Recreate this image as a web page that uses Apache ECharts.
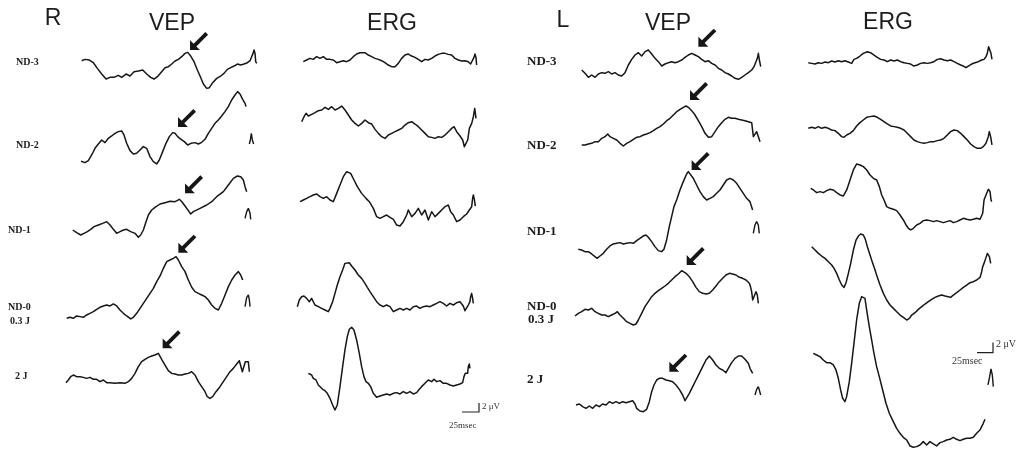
<!DOCTYPE html>
<html><head><meta charset="utf-8">
<script src="https://cdn.jsdelivr.net/npm/echarts@6/dist/echarts.min.js"></script>
<style>html,body{margin:0;padding:0;background:#fff}#c{width:1021px;height:450px}</style>
</head><body><div id="c"></div>
<script>
// ---- DATA: waveforms as [time, amplitude] samples (1 unit = 1/3 px of the figure) ----
const panels = ['R', 'L'];
const columns = ['VEP', 'ERG'];
const stimuli = [['ND-3'], ['ND-2'], ['ND-1'], ['ND-0', '0.3 J'], ['2 J']];
const scaleBarV = '2 μV';
const scaleBarT = '25msec';

const rVep1 = [[0,0],[10,4],[23,2],[35,-6],[47,-23],[60,-40],[73,-55],[85,-50],[97,-50],[110,-44],[120,-50],[133,-40],[145,-46],[157,-33],[170,-31],[183,-28],[195,-40],[207,-50],[217,-55],[227,-48],[240,-33],[250,-21],[260,-18],[270,-10],[280,-1],[290,4],[300,12],[310,22],[318,25],[327,14],[337,-3],[347,-28],[355,-46],[365,-70],[375,-83],[383,-81],[393,-66],[405,-53],[417,-46],[427,-38],[437,-26],[447,-21],[457,-16],[467,-10],[477,-13],[487,-10],[497,-6],[505,0],[511,2],[514,22],[517,32],[520,22],[522,-3],[525,-8]];
const rVep2 = [[0,0],[12,-4],[22,2],[32,19],[42,39],[52,52],[62,64],[72,56],[82,69],[92,76],[102,84],[112,89],[122,91],[129,79],[137,54],[147,32],[157,22],[167,24],[177,34],[187,44],[197,39],[207,14],[217,-1],[227,-8],[235,4],[245,29],[255,54],[265,74],[275,86],[282,84],[290,74],[300,66],[310,59],[320,49],[330,54],[342,56],[352,52],[362,57],[372,66],[382,84],[392,99],[402,114],[412,124],[422,136],[432,149],[442,164],[452,184],[462,199],[470,209],[477,202],[485,186],[492,174],[495,164]];
const rVep2Cal = [[505,52],[508,64],[511,84],[514,64],[518,52]];
const rVep3 = [[0,0],[12,-8],[24,-15],[34,-10],[44,-5],[54,2],[64,10],[77,15],[90,20],[102,25],[112,15],[122,2],[132,-10],[142,-5],[152,0],[162,2],[174,-5],[187,-10],[197,-22],[204,-15],[212,0],[220,25],[227,45],[237,60],[247,68],[262,78],[277,82],[292,86],[307,85],[320,92],[328,84],[337,72],[347,58],[354,48],[362,55],[382,65],[402,75],[417,85],[432,100],[452,115],[467,135],[482,155],[494,162],[504,160],[512,150],[517,130],[522,115]];
const rVep3Cal = [[517,35],[522,55],[527,65],[532,50],[534,32]];
const rVep4 = [[0,0],[10,3],[20,0],[30,7],[40,5],[50,3],[60,10],[70,15],[80,20],[90,27],[100,33],[110,37],[120,40],[130,37],[140,43],[150,37],[160,25],[170,15],[180,7],[192,-2],[200,3],[210,15],[220,30],[230,45],[240,60],[250,75],[260,90],[270,110],[280,127],[290,150],[300,170],[310,175],[320,180],[328,185],[335,175],[345,155],[355,140],[365,115],[375,93],[385,80],[395,75],[405,70],[415,65],[425,55],[435,40],[445,30],[455,25],[465,45],[475,70],[485,95],[495,115],[505,130],[515,140],[522,130],[528,115]];
const rVep4Cal = [[535,35],[540,63],[545,70],[548,55],[550,35]];
const rVep5 = [[0,0],[7,8],[14,18],[22,23],[32,18],[42,18],[52,16],[62,13],[72,16],[82,10],[92,10],[102,3],[112,8],[122,0],[132,0],[147,-2],[162,0],[177,-2],[187,3],[197,13],[207,28],[217,48],[227,63],[237,70],[247,76],[257,80],[267,83],[277,88],[287,70],[297,53],[307,36],[317,28],[327,26],[337,23],[347,23],[357,26],[367,28],[377,33],[387,23],[397,3],[407,-12],[417,-27],[424,-42],[432,-47],[440,-42],[450,-27],[462,-12],[472,3],[482,18],[492,33],[502,43],[512,56],[520,66],[524,66],[529,33],[534,33],[538,63],[542,68],[547,63],[550,33]];

const rErg1 = [[0,0],[10,5],[20,10],[30,7],[40,15],[50,10],[60,15],[70,7],[80,7],[90,5],[100,-3],[110,0],[120,3],[130,0],[140,5],[150,15],[160,23],[170,27],[185,27],[195,20],[205,15],[215,10],[225,7],[235,3],[245,-3],[255,-10],[265,-15],[275,-15],[285,-5],[295,10],[305,20],[315,23],[325,17],[335,13],[345,7],[355,0],[365,7],[375,5],[385,10],[395,17],[405,22],[415,25],[425,25],[435,22],[445,20],[455,10],[465,5],[475,2],[485,3],[495,0],[502,-7],[508,-5],[512,13],[515,23],[518,13],[520,-10]];
const rErg2 = [[0,0],[7,15],[13,25],[20,17],[30,22],[40,27],[50,33],[60,35],[70,43],[80,37],[90,45],[100,35],[110,40],[120,47],[130,35],[140,20],[150,5],[160,-5],[170,-13],[180,-5],[190,5],[200,-3],[210,-7],[220,-23],[230,-35],[240,-45],[250,-50],[260,-40],[270,-35],[280,-30],[290,-25],[300,-20],[310,-10],[320,-3],[330,0],[340,-7],[350,-15],[360,-25],[370,-35],[380,-45],[390,-47],[400,-50],[410,-45],[420,-47],[430,-40],[440,-30],[450,-20],[457,-15],[465,-30],[475,-43],[483,-55],[488,-75],[493,-80],[498,-55],[503,-20],[510,-5],[515,15],[519,40],[523,10]];
const rErg3 = [[0,0],[10,5],[20,10],[30,15],[40,20],[50,23],[60,15],[70,10],[80,15],[90,5],[100,0],[110,25],[120,50],[130,75],[140,90],[145,93],[152,85],[162,65],[172,45],[185,25],[198,10],[208,0],[210,-5],[220,-20],[230,-45],[240,-50],[250,-45],[260,-40],[270,-47],[280,-53],[290,-70],[300,-73],[310,-60],[320,-40],[325,-25],[335,-45],[345,-35],[355,-20],[365,-40],[375,-25],[385,-55],[395,-30],[405,-45],[415,-35],[425,-25],[435,-15],[445,-10],[452,-30],[460,-40],[470,-60],[480,-55],[490,-45],[500,-37],[508,-25],[515,-15],[518,11],[520,20],[523,7],[526,-13]];
const rErg4 = [[0,0],[6,20],[13,30],[20,32],[28,25],[36,15],[43,25],[48,20],[53,5],[63,0],[73,-5],[83,-10],[93,-15],[98,-5],[106,15],[113,40],[120,65],[128,90],[136,110],[143,130],[148,135],[156,132],[163,122],[173,110],[183,95],[193,85],[203,70],[210,58],[218,45],[228,30],[238,15],[248,5],[258,0],[268,5],[278,0],[288,-15],[293,-20],[298,-10],[308,-5],[318,-10],[328,-5],[338,-10],[348,0],[358,2],[368,-5],[378,0],[388,2],[398,0],[408,5],[418,10],[428,15],[438,10],[448,2],[458,10],[468,5],[478,12],[488,15],[498,2],[503,-12],[508,-10],[513,5],[518,15],[520,30],[523,40],[526,25],[528,10]];
const rErg5 = [[0,0],[10,-5],[15,-15],[23,-20],[30,-35],[35,-40],[43,-48],[50,-52],[57,-60],[65,-75],[73,-95],[80,-110],[87,-95],[95,-40],[103,20],[110,70],[117,110],[123,132],[130,138],[137,130],[145,100],[153,60],[160,20],[167,-10],[173,-25],[180,-30],[187,-40],[195,-60],[205,-72],[215,-68],[225,-65],[235,-62],[245,-65],[255,-60],[265,-58],[275,-62],[285,-55],[295,-60],[305,-55],[315,-62],[325,-58],[333,-48],[340,-40],[350,-30],[360,-20],[370,-25],[377,-18],[385,-25],[395,-22],[405,-30],[415,-30],[425,-35],[435,-38],[445,-35],[455,-32],[463,-28],[467,-10],[471,0],[475,-5],[478,0],[480,20],[483,28],[485,15]];

const lVep1 = [[0,0],[10,-10],[20,-22],[30,-15],[40,-22],[50,-12],[60,-8],[70,-10],[80,-5],[90,-12],[100,-8],[110,-15],[120,-18],[130,-8],[140,15],[150,32],[160,45],[170,52],[180,42],[190,55],[200,60],[210,48],[220,35],[230,25],[240,12],[250,18],[260,22],[270,25],[280,22],[290,25],[300,30],[310,38],[320,45],[330,50],[340,45],[350,40],[360,32],[370,25],[380,28],[390,20],[400,15],[410,5],[420,0],[430,-8],[440,-12],[450,-18],[460,-25],[470,-28],[480,-22],[490,-15],[500,-8],[510,0],[517,10],[523,15],[527,35],[530,50],[533,30],[537,10]];
const lVep2 = [[0,0],[10,0],[20,3],[30,5],[40,10],[50,10],[60,20],[70,25],[78,33],[85,25],[95,20],[105,15],[115,5],[125,-3],[135,5],[145,10],[155,17],[165,23],[175,25],[185,30],[195,33],[205,37],[215,43],[225,50],[235,55],[245,63],[255,73],[265,80],[275,90],[285,100],[295,107],[305,113],[313,117],[320,113],[330,103],[340,90],[350,73],[360,55],[370,35],[380,23],[390,25],[400,40],[410,55],[420,67],[430,77],[440,83],[450,80],[460,80],[470,77],[480,75],[490,73],[500,70],[510,67],[513,65],[515,25],[520,23],[525,40],[528,45],[531,35],[535,10]];
const lVep3 = [[0,0],[10,-2],[20,-7],[30,-7],[40,-14],[50,-22],[57,-27],[65,-20],[75,-12],[85,0],[95,10],[105,16],[115,18],[125,20],[135,16],[145,18],[155,20],[165,18],[175,26],[185,33],[195,40],[203,43],[210,36],[220,23],[230,8],[240,-4],[250,-7],[257,0],[265,28],[273,68],[280,98],[287,128],[295,148],[305,178],[315,203],[325,226],[330,233],[335,228],[345,213],[355,193],[365,173],[375,158],[385,148],[395,153],[405,158],[415,168],[425,178],[435,193],[445,208],[455,213],[465,208],[475,198],[485,183],[495,168],[505,153],[515,143],[523,118]];
const lVep3Cal = [[525,48],[530,73],[535,83],[540,73],[543,48]];
const lVep4 = [[0,0],[10,8],[20,13],[30,20],[40,18],[50,23],[60,13],[70,8],[80,3],[90,3],[100,-2],[110,3],[120,8],[127,13],[135,3],[145,-7],[155,-17],[165,-22],[175,-27],[183,-24],[190,-12],[200,8],[210,28],[220,43],[230,58],[240,68],[250,76],[260,83],[270,90],[280,98],[290,108],[300,118],[310,126],[320,136],[325,138],[333,128],[343,118],[353,103],[363,86],[373,73],[383,68],[393,66],[403,68],[413,78],[423,90],[433,103],[443,113],[453,123],[463,128],[473,126],[483,123],[493,116],[503,113],[513,108],[523,98],[527,86],[530,73],[533,48],[536,43],[539,63],[543,73],[547,63],[550,38]];
const lVep5 = [[0,0],[10,3],[20,-5],[30,-10],[40,-3],[50,-10],[60,0],[70,-5],[80,3],[90,0],[100,10],[110,5],[120,10],[130,5],[140,10],[150,7],[160,10],[170,13],[177,3],[182,-10],[192,-18],[202,-20],[212,-13],[220,10],[227,40],[234,60],[242,75],[250,80],[260,80],[270,75],[280,73],[290,70],[300,60],[310,47],[320,30],[327,13],[332,15],[340,35],[350,55],[360,75],[370,95],[380,115],[390,135],[400,147],[410,135],[420,120],[430,110],[440,105],[450,97],[457,110],[467,127],[477,140],[487,147],[497,147],[507,137],[517,125],[522,110],[527,105],[530,95]];
const lVep5Cal = [[537,30],[542,47],[547,55],[550,45],[554,30]];

const lErg1 = [[0,0],[10,-2],[20,-4],[30,0],[40,-2],[50,2],[60,0],[70,5],[80,2],[90,6],[100,3],[110,6],[120,2],[130,-2],[137,10],[145,13],[155,20],[165,28],[177,33],[187,30],[197,23],[207,16],[217,10],[227,8],[237,3],[247,8],[257,5],[267,8],[277,3],[287,0],[297,-2],[307,-4],[317,-10],[327,-7],[337,-2],[347,0],[357,-2],[367,0],[377,3],[387,10],[397,12],[407,8],[417,6],[427,8],[437,3],[447,-2],[457,-7],[465,-10],[473,-15],[480,-10],[490,-4],[500,0],[510,3],[520,8],[527,10],[533,18],[537,28],[541,48],[545,50],[548,28],[551,10]];
const lErg2 = [[0,0],[10,3],[20,0],[30,5],[40,0],[50,3],[60,0],[70,-5],[80,-7],[90,-15],[100,-25],[107,-27],[115,-20],[125,-15],[135,-7],[145,7],[155,17],[165,25],[175,33],[185,35],[197,37],[207,33],[217,27],[227,20],[237,13],[247,7],[257,5],[267,3],[277,0],[287,-5],[297,-15],[307,-25],[317,-35],[327,-40],[337,-43],[347,-45],[357,-43],[367,-40],[377,-40],[387,-37],[397,-35],[407,-30],[417,-20],[427,-10],[437,-5],[447,-7],[457,-15],[467,-25],[477,-35],[487,-47],[497,-55],[507,-60],[517,-60],[525,-55],[533,-45],[540,-25],[543,-10],[547,-25],[551,-50]];
const lErg3 = [[0,0],[8,-5],[18,-13],[28,-10],[38,-13],[48,-7],[58,-3],[68,-5],[78,-13],[88,-20],[98,-23],[108,-5],[118,25],[128,55],[138,73],[148,70],[158,65],[168,55],[178,40],[188,30],[198,25],[206,5],[213,-20],[220,-35],[228,-55],[238,-60],[248,-63],[258,-67],[268,-80],[278,-95],[286,-110],[293,-120],[300,-125],[308,-120],[318,-110],[328,-105],[338,-97],[348,-95],[358,-97],[368,-100],[378,-97],[388,-100],[398,-103],[408,-100],[418,-97],[428,-103],[438,-100],[448,-95],[458,-90],[468,-93],[478,-95],[488,-93],[498,-90],[508,-93],[513,-95],[516,-75],[518,-55],[520,-35],[523,-35],[528,-15],[533,-3],[538,-10],[541,-35],[543,-40]];
const lErg4 = [[0,0],[10,-10],[20,-20],[30,-28],[40,-35],[50,-45],[60,-55],[67,-65],[75,-80],[83,-100],[90,-115],[97,-122],[103,-108],[110,-80],[117,-50],[125,-10],[133,20],[140,32],[147,38],[155,35],[161,22],[167,0],[175,-25],[183,-50],[190,-70],[197,-92],[205,-115],[215,-140],[225,-160],[235,-175],[245,-185],[255,-195],[265,-205],[275,-212],[285,-220],[293,-215],[300,-205],[310,-198],[320,-188],[330,-180],[340,-172],[350,-165],[360,-158],[370,-152],[380,-148],[390,-145],[400,-148],[410,-150],[417,-152],[425,-145],[435,-138],[445,-130],[455,-122],[465,-115],[475,-108],[485,-105],[495,-100],[505,-92],[510,-75],[513,-60],[517,-50],[523,-48],[527,-20],[530,-15],[533,-30],[537,-50]];
const lErg5 = [[0,0],[10,-5],[20,-10],[30,-20],[40,-28],[50,-28],[60,-35],[68,-50],[75,-75],[82,-110],[88,-135],[95,-145],[100,-130],[108,-85],[115,-30],[122,30],[130,100],[138,150],[145,170],[150,175],[155,165],[160,130],[168,80],[175,40],[182,0],[190,-40],[198,-70],[208,-110],[218,-150],[228,-180],[240,-205],[250,-225],[260,-240],[270,-252],[280,-260],[290,-278],[300,-282],[310,-280],[320,-275],[330,-265],[340,-275],[350,-265],[360,-272],[370,-278],[380,-268],[390,-265],[400,-260],[410,-258],[420,-252],[430,-258],[440,-262],[450,-258],[460,-255],[470,-255],[480,-252],[490,-240],[500,-230],[505,-220],[510,-210],[515,-198]];
const lErg5Cal = [[524,-95],[529,-70],[533,-47],[537,-65],[540,-100]];

// arrowed VEP peaks (tip of the arrow, in the same units)
const arrowTips = {
  rVep1: [325, 32], rVep2: [291, 103], rVep3: [337, 110], rVep4: [335, 197], rVep5: [290, 103],
  lVep1: [350, 70], lVep2: [325, 135], lVep3: [340, 238], lVep4: [335, 153], lVep5: [280, 100]
};

// ---- LAYOUT (pixels) ----
const UNITS_PER_PX = 3;
const traces = [
  { d: rVep1, cal: null, at: [81.7, 60.7], arrow: 'rVep1' },
  { d: rVep2, cal: rVep2Cal, at: [81, 161.3], arrow: 'rVep2' },
  { d: rVep3, cal: rVep3Cal, at: [72.7, 230], arrow: 'rVep3' },
  { d: rVep4, cal: rVep4Cal, at: [66.7, 318.3], arrow: 'rVep4' },
  { d: rVep5, cal: null, at: [66, 382.7], arrow: 'rVep5' },
  { d: rErg1, cal: null, at: [303.3, 61.7] },
  { d: rErg2, cal: null, at: [301.7, 121.7] },
  { d: rErg3, cal: null, at: [300, 201.7] },
  { d: rErg4, cal: null, at: [297.3, 306.7] },
  { d: rErg5, cal: null, at: [308.3, 373.3] },
  { d: lVep1, cal: null, at: [581.7, 70], arrow: 'lVep1' },
  { d: lVep2, cal: null, at: [581.7, 145], arrow: 'lVep2' },
  { d: lVep3, cal: lVep3Cal, at: [578.3, 249.3], arrow: 'lVep3' },
  { d: lVep4, cal: null, at: [575, 316], arrow: 'lVep4' },
  { d: lVep5, cal: lVep5Cal, at: [576, 405], arrow: 'lVep5' },
  { d: lErg1, cal: null, at: [808.3, 62.7] },
  { d: lErg2, cal: null, at: [808.3, 128.3] },
  { d: lErg3, cal: null, at: [810.7, 188.3] },
  { d: lErg4, cal: null, at: [811.7, 246.7] },
  { d: lErg5, cal: lErg5Cal, at: [813.3, 353.3] }
];
const ARROW = 'path://M0 21 L0 10 L4 14 L17 1 L20 4 L7 17 L11 21 Z';
const INK = '#161616';

const grid = [], xAxis = [], yAxis = [], series = [];
traces.forEach((tr, i) => {
  const all = tr.d.concat(tr.cal || []).concat(tr.arrow ? [arrowTips[tr.arrow]] : []);
  const tMax = Math.max(...all.map(p => p[0]));
  const aMin = Math.min(...all.map(p => p[1]));
  const aMax = Math.max(...all.map(p => p[1]));
  grid.push({ left: tr.at[0], top: tr.at[1] - aMax / UNITS_PER_PX,
    width: tMax / UNITS_PER_PX, height: (aMax - aMin) / UNITS_PER_PX,
    outerBoundsMode: 'none', containLabel: false, show: false });
  xAxis.push({ type: 'value', gridIndex: i, min: 0, max: tMax, show: false });
  yAxis.push({ type: 'value', gridIndex: i, min: aMin, max: aMax, show: false });
  const s = { type: 'line', xAxisIndex: i, yAxisIndex: i, data: tr.d, showSymbol: false,
    clip: false, silent: true, animation: false,
    lineStyle: { color: INK, width: 1.5, join: 'round' } };
  if (tr.arrow) {
    s.markPoint = { silent: true, animation: false, symbol: ARROW, symbolSize: 18,
      symbolOffset: [9, -9], itemStyle: { color: INK }, label: { show: false },
      data: [{ coord: arrowTips[tr.arrow] }] };
  }
  series.push(s);
  if (tr.cal) {
    series.push({ type: 'line', xAxisIndex: i, yAxisIndex: i, data: tr.cal, showSymbol: false,
      clip: false, silent: true, animation: false, lineStyle: { color: INK, width: 1.4 } });
  }
});

// ---- TEXT & SCALE BARS ----
const head = (t, x, y) => ({ type: 'text', style: { text: t, x: x, y: y, fill: '#1c1c1c',
  font: '23px "Liberation Sans", Arial, sans-serif', textAlign: 'center', align: 'center',
  textVerticalAlign: 'bottom', verticalAlign: 'bottom' } });
const lab = (t, x, y, size) => ({ type: 'text', style: { text: t, x: x, y: y, fill: '#1c1c1c',
  font: 'bold ' + size + 'px "Liberation Serif", "DejaVu Serif", serif', textAlign: 'left', align: 'left',
  textVerticalAlign: 'middle', verticalAlign: 'middle' } });
const small = (t, x, y, size) => ({ type: 'text', style: { text: t, x: x, y: y, fill: '#333',
  font: size + 'px "Liberation Serif", "DejaVu Serif", serif', textAlign: 'left', align: 'left',
  textVerticalAlign: 'middle', verticalAlign: 'middle' } });
const bar = (pts) => ({ type: 'polyline', shape: { points: pts },
  style: { stroke: '#222', lineWidth: 1.2, fill: null } });

const graphic = [
  head(panels[0], 53, 30), head(columns[0], 172, 35), head(columns[1], 392, 35),
  head(panels[1], 563, 32), head(columns[0], 668, 35), head(columns[1], 888, 34),
  lab(stimuli[0][0], 16, 62.5, 10), lab(stimuli[1][0], 16, 145, 10), lab(stimuli[2][0], 8, 230, 10),
  lab(stimuli[3][0], 8, 307.5, 10), lab(stimuli[3][1], 10, 321, 10), lab(stimuli[4][0], 15, 376, 10),
  lab(stimuli[0][0], 527, 62, 13), lab(stimuli[1][0], 527, 146, 13), lab(stimuli[2][0], 527, 232, 13),
  lab(stimuli[3][0], 527, 307, 13), lab(stimuli[3][1], 528, 320, 13), lab(stimuli[4][0], 527, 380, 13),
  bar([[462, 412], [479, 412], [479, 403]]),
  small(scaleBarV, 482, 407, 9), small(scaleBarT, 449, 426, 9),
  bar([[977, 352.7], [993, 352.7], [993, 342.5]]),
  small(scaleBarV, 996, 344, 10), small(scaleBarT, 952, 361, 10)
];

const chart = echarts.init(document.getElementById('c'), null, { renderer: 'canvas' });
chart.setOption({ backgroundColor: '#ffffff', animation: false, grid, xAxis, yAxis, series, graphic });
</script></body></html>
